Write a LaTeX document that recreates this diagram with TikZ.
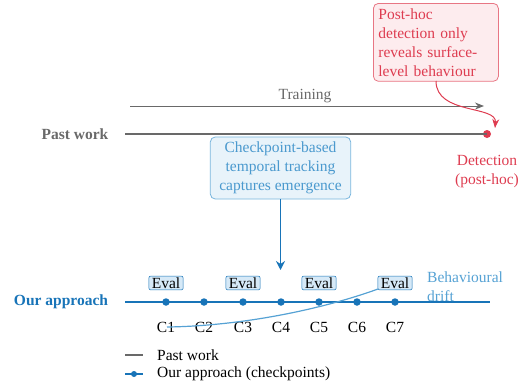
\documentclass[tikz,border=0pt]{standalone}
\usepackage{fontspec}
\setmainfont{Liberation Serif}
\usetikzlibrary{arrows.meta}
\definecolor{pgray}{RGB}{105,105,105}
\definecolor{oblue}{RGB}{24,116,184}
\definecolor{lblue}{RGB}{86,162,212}
\definecolor{pred}{RGB}{222,60,80}
\definecolor{redfill}{RGB}{253,236,238}
\definecolor{bluefill}{RGB}{232,243,250}
\definecolor{evalfill}{RGB}{214,233,247}
\tikzset{
  txt/.style={font=\fontsize{15.5}{19}\selectfont, inner sep=0pt},
  rowlabel/.style={txt, font=\fontsize{15.5}{19}\selectfont\bfseries},
  cpdot/.style={circle, fill=oblue, inner sep=0pt, minimum size=7.5pt},
  evalbox/.style={txt, draw=oblue, line width=0.5pt, fill=evalfill, rounded corners=2pt, inner xsep=3pt, inner ysep=1.5pt},
  redbox/.style={txt, draw=pred!70, line width=0.8pt, fill=redfill, rounded corners=5pt, text=pred, align=left, inner sep=5pt, text width=115pt},
  bluebox/.style={txt, draw=lblue!80, line width=0.8pt, fill=bluefill, rounded corners=5pt, text=lblue!80!oblue, align=center, inner xsep=9pt, inner ysep=5pt},
}
\begin{document}
\begin{tikzpicture}[x=1pt,y=-1pt]
\useasboundingbox (0,0) rectangle (521,386);
% Past work row
\node[rowlabel, text=pgray] (pwlabel) at (75,134) {Past work};
\coordinate (pwstart) at (125,134);
\node[circle, fill=pred, inner sep=0pt, minimum size=8pt] (det) at (487,134) {};
\draw[pgray, line width=2pt] (pwstart) -- (det.center);
\coordinate (trs) at (130,106);
\coordinate (tre) at (484,106);
\draw[pgray, line width=1pt, -{Stealth[length=9pt,width=7pt]}] (trs) -- (tre);
\node[txt, text=pgray, fill=white, inner xsep=1pt, inner ysep=1pt] (trlabel) at (305,96) {Training};
\node[txt, text=pred, align=center] (detlabel) at (487,172) {Detection\\(post-hoc)};
% red box
\node[redbox, anchor=north west] (rbox) at (373,3) {Post-hoc\\detection only\\reveals surface-\\level behaviour};
\coordinate (rtip) at (495,128);
\draw[pred, line width=1pt, -{Stealth[length=9pt,width=7pt]}] (436,81) .. controls (436,115) and (497,105) .. (rtip);
% blue box
\node[bluebox] (bbox) at (280.5,168) {Checkpoint-based\\temporal tracking\\captures emergence};
\coordinate (btip) at (280.5,270);
\draw[oblue, line width=1.6pt, -{Stealth[length=9pt,width=9pt]}] (bbox.south) -- (btip);
% Our approach row
\node[rowlabel, text=oblue] (oalabel) at (61,302) {Our approach};
\coordinate (oastart) at (125,302);
\coordinate (oaend) at (490,302);
\draw[oblue, line width=2pt] (oastart) -- (oaend);
\foreach \i/\x in {1/166,2/204,3/243,4/281,5/319,6/357,7/395}{
  \node[cpdot] (c\i) at (\x,302) {};
  \node[txt] (cl\i) at (\x,327) {C\i};
}
\foreach \i in {1,3,5,7}{
  \node[evalbox] (e\i) at ([yshift=19pt]c\i.center) {Eval};
}
% behavioural drift
\draw[lblue, line width=1.2pt] (167,327) .. controls (240,326) and (320,310) .. (378,289);
\node[txt, text=lblue, align=left, anchor=west] (drift) at (427,287) {Behavioural\\drift};
% legend
\coordinate (l1a) at (125,355);
\coordinate (l1b) at (143,355);
\draw[pgray, line width=1.6pt] (l1a) -- (l1b);
\node[txt, anchor=west] (leg1) at (157,355) {Past work};
\coordinate (l2a) at (125,374);
\coordinate (l2b) at (143,374);
\draw[oblue, line width=1.6pt] (l2a) -- (l2b);
\node[cpdot, minimum size=6pt] (l2dot) at (134,374) {};
\node[txt, anchor=west] (leg2) at (157,374) {Our approach (checkpoints)};
\end{tikzpicture}
\end{document}
